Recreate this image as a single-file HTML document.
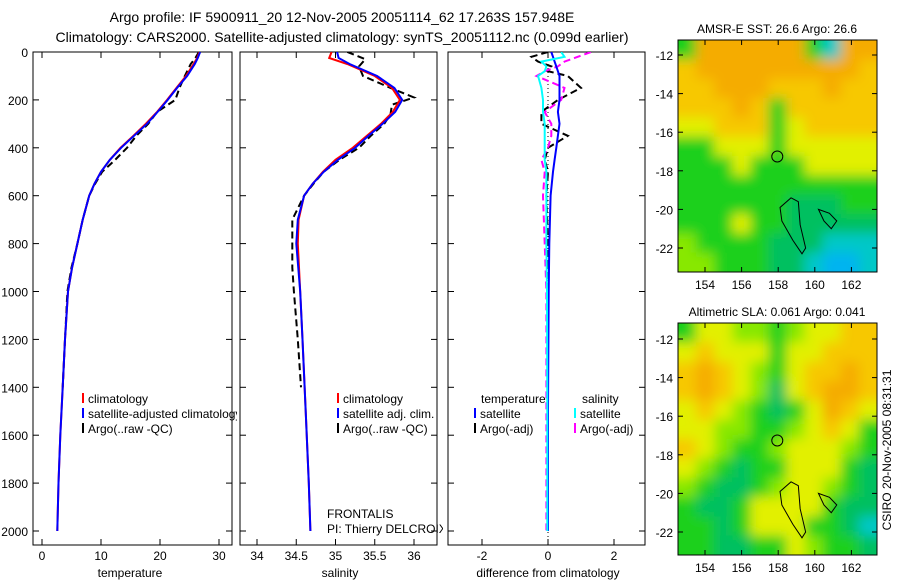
<!DOCTYPE html>
<html><head><meta charset="utf-8"><style>
body{margin:0;background:#fff;}
svg{display:block;font-family:"Liberation Sans",sans-serif;}
</style></head><body>
<svg id="fig" width="900" height="580" viewBox="0 0 900 580" xmlns="http://www.w3.org/2000/svg">
<rect width="900" height="580" fill="#fff"/>
<text x="342" y="22" font-size="14" text-anchor="middle">Argo profile: IF 5900911_20 12-Nov-2005 20051114_62 17.263S 157.948E</text>
<text x="342" y="42" font-size="14" text-anchor="middle">Climatology: CARS2000. Satellite-adjusted climatology: synTS_20051112.nc (0.099d earlier)</text>
<defs>
<clipPath id="c1"><rect x="33" y="52" width="204" height="494"/></clipPath>
<clipPath id="c2"><rect x="240" y="52" width="203" height="494"/></clipPath>
<clipPath id="c3"><rect x="448" y="52" width="197" height="494"/></clipPath>
<clipPath id="cm1"><rect x="678" y="40" width="199" height="232"/></clipPath>
<clipPath id="cm2"><rect x="678" y="323" width="199" height="232"/></clipPath>
<filter id="blur" x="-10%" y="-10%" width="120%" height="120%"><feGaussianBlur stdDeviation="6"/></filter>
</defs>
<g id="g"></g>
<text transform="translate(891,450) rotate(-90)" font-size="12" text-anchor="middle">CSIRO 20-Nov-2005 08:31:31</text>
</svg>
<script>
// ---------- data ----------
const depthTicks = [0,200,400,600,800,1000,1200,1400,1600,1800,2000];
const tempTicks = [0,10,20,30];
const salTicks = [34,34.5,35,35.5,36];
const diffTicks = [-2,0,2];
const tDepth = [0,25,50,100,150,200,250,300,350,400,450,500,550,600,700,800,900,1000,1200,1400,1600,1800,2000];
const tClim  = [26.7,26.3,25.7,24.4,22.8,21.2,19.5,17.6,15.5,13.3,11.5,10.0,8.9,8.0,6.9,6.0,5.1,4.4,3.9,3.5,3.1,2.8,2.6];
const tSat   = [26.8,26.4,25.9,24.6,22.9,21.3,19.6,17.8,15.6,13.4,11.5,10.0,8.9,8.0,6.9,6.0,5.1,4.4,3.9,3.5,3.1,2.8,2.6];
const tArgo  = [26.6,26.0,25.2,24.2,23.3,22.6,19.5,18.0,16.0,14.4,12.4,10.2,9.0,8.0,6.9,6.0,5.0,4.3,3.9,3.5];
const sDepth = [0,25,50,100,150,200,250,300,350,400,450,500,550,600,700,800,1000,1200,1500,1800,2000];
const sClim  = [34.95,34.92,35.15,35.5,35.72,35.82,35.73,35.58,35.4,35.22,35.0,34.84,34.71,34.6,34.53,34.52,34.55,34.58,34.62,34.66,34.68];
const sSat   = [35.02,35.04,35.18,35.53,35.75,35.85,35.76,35.6,35.42,35.25,35.03,34.85,34.71,34.6,34.52,34.5,34.55,34.58,34.62,34.66,34.68];
const sArgoD = [0,30,60,100,150,190,220,260,300,350,400,450,500,550,600,700,800,900,1000,1200,1400];
const sArgo  = [35.15,35.38,35.3,35.35,35.7,36.0,35.72,35.7,35.62,35.45,35.3,35.05,34.85,34.72,34.6,34.45,34.45,34.45,34.47,34.52,34.56];
const dDepth = [0,20,40,60,80,100,150,200,250,300,350,400,450,500,600,800,1000,1500,2000];
const dTSat  = [0.1,0.15,0.2,0.25,0.3,0.35,0.35,0.35,0.3,0.35,0.3,0.25,0.2,0.15,0.08,0.04,0.02,0.0,0.0];
const dSSat  = [0.4,0.5,-0.2,-0.05,-0.1,-0.3,-0.2,-0.15,-0.15,-0.1,-0.1,-0.1,-0.1,-0.05,-0.05,-0.05,-0.03,-0.02,-0.02];
const dTArgo = [0.0,-0.5,-0.3,0.1,0.0,0.6,1.0,0.3,-0.2,-0.2,0.6,0.0,-0.1,0.0,-0.05,0.0,0.0,0.0,0.0];
const dSArgo = [1.3,0.9,0.5,0.3,-0.1,-0.35,0.5,0.4,-0.1,0.1,0.1,0.0,-0.2,-0.1,-0.15,-0.1,-0.05,-0.05,-0.05];
const lonTicks = [154,156,158,160,162];
const latTicks = [-12,-14,-16,-18,-20,-22];
const pal = {O:'#f5ac00',Y:'#f7c800',L:'#e2f000',G:'#88e800',g:'#1cd01c',T:'#00c060',C:'#00c8c8',B:'#00b4f0'};
const sstGrid = ["gOOOOOOgCOO","YOOOOOOOOOY","YYOOOYYYOYY","YYYOYgYYYYY","LLYYYgLYYYY","ggLLLgLLLLL","gggLgggLLLL","ggggggggggg","ggggggTTTgg","gggLggTTTTT","GggggTTTCCC","GGgggTTCBBC"];
const slaGrid = ["gLLGGgGLLYY","LYLLLgLLYYY","YOYLGgLYYOY","YOYLGTLYOOY","LYLGgTgLOYL","LLGGggGLYLg","YLGggGLLLGg","LGgTggLLLgT","GgTTgGLLGgT","gTTgLLLLgTT","ggTgLLLggTC","ggTTggLGggT"];
const argoLon = 157.95, argoLat = -17.26;

// ---------- helpers ----------
const NS='http://www.w3.org/2000/svg';
const G=document.getElementById('g');
function mk(tag,attrs,parent){const e=document.createElementNS(NS,tag);for(const k in attrs)e.setAttribute(k,attrs[k]);(parent||G).appendChild(e);return e;}
const y0=52, dpx=0.2395;
const yD = d => y0 + d*dpx;
const xT = t => 42 + 5.9*t;
const xS = s => 257 + 78.5*(s-34);
const xDf = v => 548 + 33*v;
const xLon = l => 705 + 18.3*(l-154);
const yLat1 = l => 55 + 19.3*(-12-l);
const yLat2 = l => 339 + 19.3*(-12-l);

function frame(x,w,name){
  const r=mk('rect',{x:x,y:52,width:w,height:493,fill:'none',stroke:'#000','stroke-width':1});
  
  
  depthTicks.forEach(d=>{mk('line',{x1:x,x2:x+6,y1:yD(d),y2:yD(d),stroke:'#000'});mk('line',{x1:x+w-6,x2:x+w,y1:yD(d),y2:yD(d),stroke:'#000'});});
}
function line(xs,ys,fx,color,dash,name,clip,w){
  const pts=xs.map((v,i)=>fx(v).toFixed(1)+','+yD(ys[i]).toFixed(1)).join(' ');
  const p=mk('polyline',{points:pts,fill:'none',stroke:color,'stroke-width':w||2,'stroke-dasharray':dash||'none','clip-path':'url(#'+clip+')'});
  
  
}
function xticks(ticks,fx){
  ticks.forEach(t=>{const x=fx(t);
    mk('line',{x1:x,x2:x,y1:545,y2:539,stroke:'#000'});mk('line',{x1:x,x2:x,y1:52,y2:58,stroke:'#000'});
    const tx=mk('text',{x:x,y:560,'font-size':12,'text-anchor':'middle'});tx.textContent=String(t);
    
    
  });
}
function txt(x,y,s,name,anchor,clip){const t=mk('text',{x:x,y:y,'font-size':12,'text-anchor':anchor||'start'});if(clip)t.setAttribute('clip-path','url(#'+clip+')');t.textContent=s;
  
  return t;}
function leg(x,y,color,label,name,clip){mk('line',{x1:x,x2:x,y1:y-10,y2:y,stroke:color,'stroke-width':2});txt(x+5,y,label,name,'start',clip);}

// panels
frame(33,199,'temperature-panel');
frame(240,197,'salinity-panel');
frame(448,197,'difference-panel');
depthTicks.forEach(d=>{txt(28,yD(d)+5,String(d),'y-tick-label','end');});
xticks(tempTicks,xT);xticks(salTicks,xS);xticks(diffTicks,xDf);
txt(130,577,'temperature','x-axis-title-temperature','middle');
txt(340,577,'salinity','x-axis-title-salinity','middle');
txt(548,577,'difference from climatology','x-axis-title-difference','middle');

line(tArgo,tDepth.slice(0,tArgo.length),xT,'#000','7,4','temp-argo-line','c1');
line(tClim,tDepth,xT,'#f00',null,'temp-climatology-line','c1');
line(tSat,tDepth,xT,'#00f',null,'temp-satellite-line','c1');
line(sArgo,sArgoD,xS,'#000','7,4','sal-argo-line','c2');
line(sClim,sDepth,xS,'#f00',null,'sal-climatology-line','c2');
line(sSat,sDepth,xS,'#00f',null,'sal-satellite-line','c2');
mk('line',{x1:548,x2:548,y1:52,y2:545,stroke:'#000','stroke-dasharray':'1,3'});
line(dTArgo,dDepth,xDf,'#000','7,4','diff-temp-argo-line','c3');
line(dSArgo,dDepth,xDf,'#f0f','7,4','diff-sal-argo-line','c3');
line(dTSat,dDepth,xDf,'#00f',null,'diff-temp-satellite-line','c3');
line(dSSat,dDepth,xDf,'#0ff',null,'diff-sal-satellite-line','c3');

leg(83,403,'#f00','climatology','legend-climatology');
leg(83,418,'#00f','satellite-adjusted climatology','legend-satellite-adjusted','c1');
leg(83,433,'#000','Argo(..raw -QC)','legend-argo');
leg(338,403,'#f00','climatology','legend2-climatology');
leg(338,418,'#00f','satellite adj. clim.','legend2-satellite');
leg(338,433,'#000','Argo(..raw -QC)','legend2-argo');
txt(481,403,'temperature','legend3-temperature-header');
leg(475,418,'#00f','satellite','legend3-temp-satellite');
leg(475,433,'#000','Argo(-adj)','legend3-temp-argo');
txt(582,403,'salinity','legend3-salinity-header');
leg(575,418,'#0ff','satellite','legend3-sal-satellite');
leg(575,433,'#f0f','Argo(-adj)','legend3-sal-argo');
txt(327,518,'FRONTALIS','project-label');
txt(327,533,'PI: Thierry DELCROIX','pi-label','start','c2');

function map(grid,yTop,yLat,clip,title,name){
  const cw=199/11, ch=232/12;
  const cg=mk('g',{'clip-path':'url(#'+clip+')'});
  const bg=mk('g',{filter:'url(#blur)'},cg);
  const R=grid.length, C=grid[0].length;
  for(let r=-2;r<R+2;r++){for(let k=-2;k<C+2;k++){
    const rr=Math.min(R-1,Math.max(0,r)), kk=Math.min(C-1,Math.max(0,k));
    const c=grid[rr][kk];
    const cell=mk('rect',{x:678+k*cw,y:yTop+r*ch,width:cw+0.6,height:ch+0.6,fill:pal[c]},bg);
    
    
  }}
  const isl=[[158.7,-19.4],[159.1,-19.6],[159.2,-20.8],[159.5,-22.0],[159.3,-22.3],[158.8,-21.6],[158.2,-20.6],[158.1,-19.9]];
  mk('polygon',{points:isl.map(p=>xLon(p[0])+','+yLat(p[1])).join(' '),fill:'none',stroke:'#000','stroke-width':1});
  const isl2=[[160.2,-20.0],[160.8,-20.2],[161.2,-20.6],[160.9,-21.0],[160.5,-20.6]];
  mk('polygon',{points:isl2.map(p=>xLon(p[0])+','+yLat(p[1])).join(' '),fill:'none',stroke:'#000','stroke-width':1});
  const c=mk('circle',{cx:xLon(argoLon),cy:yLat(argoLat),r:5.5,fill:'none',stroke:'#000','stroke-width':1});
  
  
  const f=mk('rect',{x:678,y:yTop,width:199,height:232,fill:'none',stroke:'#000'});
  
  
  lonTicks.forEach(l=>{const x=xLon(l);mk('line',{x1:x,x2:x,y1:yTop,y2:yTop+5,stroke:'#000'});mk('line',{x1:x,x2:x,y1:yTop+232,y2:yTop+227,stroke:'#000'});
    txt(x,yTop+249,String(l),name+'-lon-label','middle');});
  latTicks.forEach(l=>{const y=yLat(l);mk('line',{x1:678,x2:683,y1:y,y2:y,stroke:'#000'});mk('line',{x1:872,x2:877,y1:y,y2:y,stroke:'#000'});
    txt(673,y+5,String(l),name+'-lat-label','end');});
  txt(777,yTop-7,title,name+'-title','middle');
}
map(sstGrid,40,yLat1,'cm1','AMSR-E SST: 26.6 Argo: 26.6','sst-map');
map(slaGrid,323,yLat2,'cm2','Altimetric SLA: 0.061 Argo: 0.041','sla-map');
</script>
</body></html>
